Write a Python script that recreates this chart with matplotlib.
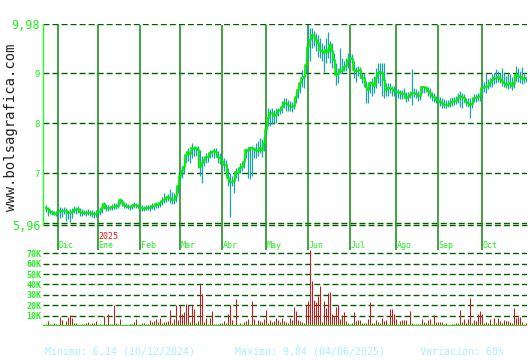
import numpy as np
import matplotlib
matplotlib.use("Agg")
import matplotlib.pyplot as plt
from matplotlib.transforms import blended_transform_factory

# daily closes, highs, lows (Nov-2024 .. Oct-2025), volume in thousands
close = [6.31, 6.28, 6.23, 6.22, 6.19, 6.19,
         6.23, 6.25, 6.24, 6.25, 6.24, 6.2, 6.2, 6.23, 6.27, 6.27, 6.28, 6.23, 6.2, 6.2, 6.2, 6.21, 6.2, 6.19, 6.18, 6.19,
         6.23, 6.22, 6.3, 6.39, 6.3, 6.31, 6.3, 6.32, 6.33, 6.34, 6.35, 6.47, 6.42, 6.37, 6.35, 6.33, 6.32, 6.34, 6.37, 6.36, 6.35,
         6.31, 6.3, 6.29, 6.3, 6.31, 6.3, 6.35, 6.34, 6.38, 6.37, 6.4, 6.45, 6.47, 6.5, 6.52, 6.5, 6.47, 6.46, 6.55, 6.75,
         6.95, 7.05, 7.13, 7.37, 7.43, 7.38, 7.5, 7.49, 7.5, 7.47, 7.13, 7.2, 7.27, 7.33, 7.32, 7.4, 7.43, 7.44, 7.43, 7.33, 7.3,
         7.25, 7.17, 7.17, 6.9, 6.83, 6.83, 6.85, 7.03, 7.0, 7.1, 7.13, 7.23, 7.47, 7.45, 7.5, 7.5, 7.49, 7.47, 7.45, 7.5, 7.47, 7.6,
         7.87, 8.1, 8.2, 8.2, 8.15, 8.17, 8.25, 8.27, 8.33, 8.4, 8.4, 8.37, 8.35, 8.33, 8.35, 8.53, 8.67, 8.8, 8.9, 8.92, 9.17,
         9.53, 9.67, 9.77, 9.75, 9.67, 9.6, 9.47, 9.45, 9.4, 9.47, 9.43, 9.57, 9.45, 9.27, 8.97, 8.98, 9.07, 9.05, 9.13, 9.15, 9.27,
         9.3, 9.28, 9.07, 9.05, 9.05, 9.07, 8.9, 8.9, 8.73, 8.67, 8.8, 8.8, 8.75, 8.9, 9.0, 9.02, 9.0, 8.87, 8.67, 8.7, 8.7, 8.68, 8.65,
         8.63, 8.62, 8.6, 8.58, 8.58, 8.5, 8.52, 8.57, 8.6, 8.6, 8.58, 8.55, 8.55, 8.73, 8.72, 8.7, 8.65, 8.6, 8.55, 8.52, 8.47,
         8.47, 8.43, 8.4, 8.37, 8.36, 8.37, 8.4, 8.42, 8.44, 8.45, 8.5, 8.55, 8.52, 8.5, 8.42, 8.4, 8.37, 8.38, 8.5, 8.5, 8.52, 8.55,
         8.7, 8.72, 8.73, 8.75, 8.8, 8.87, 8.9, 8.9, 8.92, 8.88, 8.85, 8.8, 8.77, 8.78, 8.8, 8.75, 8.8, 8.97, 8.95, 8.92, 8.9, 8.88, 8.9]

high = [6.36, 6.33, 6.28, 6.27, 6.25, 6.24,
        6.3, 6.32, 6.3, 6.33, 6.3, 6.27, 6.28, 6.3, 6.34, 6.33, 6.34, 6.3, 6.28, 6.27, 6.27, 6.28, 6.26, 6.27, 6.25, 6.27,
        6.28, 6.3, 6.38, 6.42, 6.38, 6.36, 6.35, 6.38, 6.4, 6.4, 6.42, 6.5, 6.48, 6.42, 6.4, 6.38, 6.37, 6.39, 6.42, 6.4, 6.39,
        6.37, 6.36, 6.35, 6.36, 6.37, 6.36, 6.4, 6.39, 6.42, 6.41, 6.45, 6.52, 6.6, 6.55, 6.58, 6.68, 6.62, 6.6, 6.72, 6.85,
        7.1, 7.15, 7.3, 7.45, 7.5, 7.45, 7.6, 7.55, 7.55, 7.55, 7.47, 7.35, 7.33, 7.4, 7.4, 7.47, 7.47, 7.5, 7.5, 7.45, 7.4,
        7.33, 7.3, 7.27, 7.1, 7.0, 6.95, 6.98, 7.1, 7.1, 7.2, 7.22, 7.35, 7.5, 7.52, 7.52, 7.55, 7.52, 7.6, 7.65, 7.7, 7.68, 7.75,
        8.0, 8.3, 8.28, 8.3, 8.27, 8.3, 8.3, 8.32, 8.45, 8.5, 8.5, 8.47, 8.45, 8.43, 8.5, 8.6, 8.75, 8.85, 9.07, 8.98, 9.3,
        9.95, 9.9, 9.9, 9.85, 9.8, 9.77, 9.7, 9.6, 9.57, 9.7, 9.83, 9.65, 9.6, 9.4, 9.2, 9.1, 9.5, 9.3, 9.25, 9.3, 9.4,
        9.4, 9.38, 9.25, 9.13, 9.15, 9.12, 9.0, 9.0, 8.85, 8.8, 8.85, 8.9, 8.95, 9.1, 9.2, 9.2, 9.2, 9.2, 8.8, 8.8, 8.8, 8.75, 8.75,
        8.7, 8.68, 8.67, 8.67, 8.7, 8.62, 8.62, 8.65, 9.08, 8.7, 8.68, 8.65, 8.65, 8.75, 8.75, 8.75, 8.72, 8.7, 8.62, 8.6, 8.55,
        8.55, 8.52, 8.5, 8.48, 8.47, 8.47, 8.5, 8.52, 8.52, 8.55, 8.6, 8.65, 8.6, 8.58, 8.5, 8.5, 8.5, 8.5, 8.58, 8.58, 8.6, 8.62,
        8.8, 8.82, 9.0, 8.88, 8.9, 8.98, 9.0, 9.08, 9.05, 9.0, 9.1, 9.0, 8.95, 9.0, 8.98, 8.92, 8.98, 9.15, 9.1, 9.05, 9.12, 9.0, 8.95]

low = [6.22, 6.15, 6.18, 6.17, 6.16, 6.15,
       6.15, 6.1, 6.12, 6.18, 6.05, 6.08, 6.03, 6.1, 6.2, 6.18, 6.2, 6.15, 6.14, 6.16, 6.15, 6.17, 6.15, 6.12, 6.1, 6.12,
       6.15, 6.17, 6.2, 6.28, 6.24, 6.25, 6.26, 6.27, 6.28, 6.29, 6.3, 6.38, 6.34, 6.3, 6.3, 6.28, 6.27, 6.29, 6.31, 6.3, 6.3,
       6.26, 6.25, 6.25, 6.26, 6.26, 6.25, 6.28, 6.27, 6.31, 6.3, 6.33, 6.36, 6.4, 6.42, 6.44, 6.4, 6.38, 6.38, 6.42, 6.6,
       6.85, 6.9, 7.0, 7.2, 7.25, 7.2, 7.3, 7.35, 7.35, 7.1, 6.95, 6.8, 7.15, 7.2, 7.22, 7.3, 7.32, 7.3, 7.33, 7.2, 7.18,
       7.15, 7.05, 6.95, 6.75, 6.13, 6.75, 6.6, 6.9, 6.85, 7.0, 7.05, 7.1, 7.3, 6.9, 6.88, 6.95, 7.3, 7.3, 7.35, 7.4, 7.33, 7.45,
       7.75, 7.95, 7.95, 7.98, 8.0, 8.0, 8.15, 8.18, 8.2, 8.3, 8.25, 8.25, 8.25, 8.22, 8.28, 8.4, 8.5, 8.6, 8.73, 8.7, 9.0,
       9.27, 9.25, 9.5, 9.55, 9.45, 9.33, 9.3, 9.25, 9.03, 9.2, 9.3, 9.2, 9.1, 9.1, 8.77, 8.8, 9.0, 9.0, 9.05, 9.05, 9.1,
       9.2, 9.2, 8.9, 8.83, 8.95, 8.9, 8.8, 8.75, 8.4, 8.4, 8.6, 8.55, 8.6, 8.7, 8.8, 8.75, 8.55, 8.5, 8.55, 8.55, 8.6, 8.55, 8.55,
       8.5, 8.5, 8.48, 8.48, 8.5, 8.42, 8.45, 8.5, 8.37, 8.52, 8.5, 8.45, 8.46, 8.6, 8.6, 8.62, 8.55, 8.5, 8.45, 8.42, 8.4,
       8.38, 8.35, 8.3, 8.3, 8.3, 8.32, 8.32, 8.35, 8.37, 8.38, 8.4, 8.33, 8.3, 8.43, 8.35, 8.32, 8.1, 8.3, 8.42, 8.42, 8.45, 8.45,
       8.55, 8.62, 8.6, 8.68, 8.72, 8.72, 8.78, 8.8, 8.82, 8.8, 8.75, 8.72, 8.7, 8.68, 8.7, 8.67, 8.7, 8.85, 8.82, 8.8, 8.78, 8.8, 8.82]

volume = [2, 5, 2, 1, 3, 2,
          1, 9, 6, 1, 5, 9, 11, 8, 3, 3, 1, 1, 2, 2, 3, 4, 2, 3, 3, 5,
          1, 2, 1, 10, 2, 12, 2, 2, 20, 3, 2, 7, 1, 1, 1, 1, 2, 2, 4, 7, 1,
          1, 3, 3, 2, 2, 6, 4, 5, 7, 4, 8, 3, 4, 4, 5, 15, 3, 7, 20, 6,
          20, 12, 13, 21, 20, 4, 20, 16, 3, 5, 40, 31, 4, 8, 2, 8, 14, 2, 2, 2, 3,
          3, 5, 3, 12, 20, 6, 2, 26, 1, 3, 2, 4, 5, 7, 2, 24, 7, 2, 6, 5, 4, 7,
          15, 3, 6, 4, 5, 8, 6, 4, 8, 5, 4, 3, 8, 6, 18, 14, 6, 5, 4, 3, 20,
          24, 73, 43, 25, 23, 29, 38, 4, 24, 17, 32, 33, 12, 10, 18, 20, 7, 11, 13, 5, 3,
          2, 3, 13, 5, 6, 6, 3, 3, 3, 7, 23, 3, 3, 6, 4, 3, 8, 5, 6, 2, 16, 16, 12,
          7, 2, 5, 6, 6, 6, 2, 14, 3, 2, 2, 2, 2, 7, 4, 3, 6, 7, 2, 11, 4,
          4, 4, 4, 2, 3, 1, 1, 2, 2, 3, 3, 15, 4, 7, 3, 7, 27, 3, 6, 5, 12, 14,
          12, 3, 4, 3, 7, 2, 8, 3, 8, 5, 3, 6, 5, 5, 4, 3, 17, 8, 9, 9, 4, 2, 3]

month_names = ["Nov", "Dic", "Ene", "Feb", "Mar", "Abr", "May", "Jun", "Jul", "Ago", "Sep", "Oct"]
month_days = [6, 20, 21, 20, 21, 22, 21, 21, 23, 21, 22, 23]
price_ticks = [5.96, 7, 8, 9, 9.98]
price_labels = ["5,96", "7", "8", "9", "9,98"]
vol_ticks = [10, 20, 30, 40, 50, 60, 70]

idx = np.arange(len(close))
month_start = np.cumsum([0] + month_days[:-1])

GRID = "#006000"
VLINE = "#108a10"
LIME = "#22ee22"
dash = (0, (4.3, 2.2))

fig = plt.figure(figsize=(5.3, 3.6), dpi=100)
W, H = 530, 360
ax = fig.add_axes([43 / W, 1 - 225.3 / H, 484 / W, 201 / H])
axv = fig.add_axes([43 / W, 1 - 326 / H, 484 / W, 76 / H])
XL = (-1.25, 240.75)

# price panel
ax.set_xlim(*XL)
ax.set_ylim(5.96, 9.98)
for y in [6.0, 7, 8, 9, 9.98]:
    ax.axhline(y, color=GRID, lw=1.0, ls=dash, zorder=1)
ax.axhline(5.96, color=GRID, lw=1.0, ls=dash, zorder=1, clip_on=False)
ax.vlines(idx, low, high, color="#1ca2ac", lw=0.9, zorder=3)
ax.step(idx, close, where="mid", color="#00ee00", lw=1.25, zorder=4)

for s in ["top", "right", "bottom"]:
    ax.spines[s].set_visible(False)
ax.spines["left"].set_color("#22ff22")
ax.spines["left"].set_linewidth(1.0)
ax.set_xticks([])
ax.set_yticks(price_ticks)
ax.set_yticklabels(price_labels, family="DejaVu Sans Mono", color=LIME)
for lab, v in zip(ax.get_yticklabels(), price_ticks):
    lab.set_fontsize(8.5 if v in (5.96, 9.98) else 6.5)
ax.tick_params(axis="y", length=0, pad=2)

# volume panel
axv.set_xlim(*XL)
axv.set_ylim(0, 73.1)
for y in vol_ticks:
    axv.axhline(y, color=GRID, lw=1.0, ls=dash, zorder=1)
axv.vlines(idx, 0, volume, color="#dd1111", lw=0.72, zorder=3)
axv.axhline(0, color="#22dd22", lw=1.6, zorder=4)
for s in axv.spines.values():
    s.set_visible(False)
axv.set_xticks([])
axv.set_yticks(vol_ticks)
axv.set_yticklabels([f"{v}K" for v in vol_ticks], family="DejaVu Sans Mono",
                    color=LIME, fontsize=6, fontweight="bold")
axv.tick_params(axis="y", length=0, pad=1)

# month lines crossing both panels
tr = blended_transform_factory(ax.transData, fig.transFigure)
ms = month_start[1:]
ax.vlines(ms, 1 - 326 / H, 1 - 25 / H, transform=tr, color=VLINE, lw=1.1,
          zorder=2, clip_on=False)
for m, name in zip(ms, month_names[1:]):
    fig.text(m + 0.6, 1 - 245 / H, name, transform=tr, fontsize=6,
             family="DejaVu Sans Mono", color=LIME, va="center", ha="left")
fig.text(ms[1] + 0.6, 1 - 236.5 / H, "2025", transform=tr, fontsize=6,
         family="DejaVu Sans Mono", color="#ee1111", va="center", ha="left")

fig.text(11.5 / W, 1 - 127 / H, "www.bolsagrafica.com", rotation=90,
         fontsize=10, family="DejaVu Sans Mono", color="#222222",
         ha="center", va="center")

foot = dict(fontsize=7.2, family="DejaVu Sans Mono", color="#a8f0ff", va="center")
fig.text(45 / W, 1 - 352 / H, "Minimo: 6,14 (10/12/2024)", **foot)
fig.text(235 / W, 1 - 352 / H, "Maximo: 9,84 (04/06/2025)", **foot)
fig.text(420 / W, 1 - 352 / H, "Variación: 60%", **foot)

fig.savefig("out.png", dpi=100, facecolor="white")
